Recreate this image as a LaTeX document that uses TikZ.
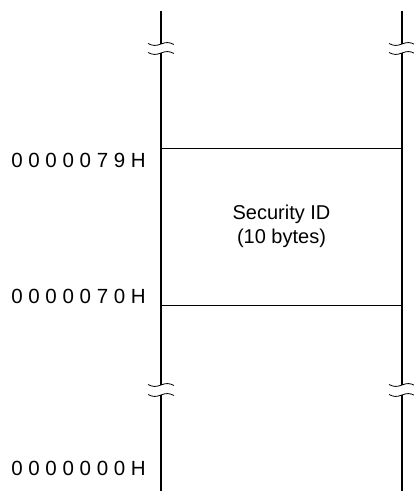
\documentclass[tikz,border=0pt]{standalone}
\usepackage{fontspec}
\setmainfont{Liberation Sans}
\usetikzlibrary{positioning,calc}

\tikzset{
  wall/.style={line width=2.4pt},
  bound/.style={line width=0.8pt},
  wavy/.style={line width=0.8pt},
  addr/.style={font=\fontsize{20.5}{24}\selectfont, inner sep=0pt, anchor=east},
  field/.style={font=\fontsize{20}{24}\selectfont, align=center, inner sep=0pt}
}

% break mark across a wall: two waves with a gap between them
\newcommand{\wallbreak}[2]{%
  \draw[wavy] ([shift={(-13,0.5)}]#1) .. controls ([shift={(-8,-2)}]#1) and ([shift={(-5,-2)}]#1) .. (#1)
    .. controls ([shift={(5,2)}]#1) and ([shift={(8,2)}]#1) .. ([shift={(13,-0.5)}]#1);
  \draw[wavy] ([shift={(-13,0.5)}]#2) .. controls ([shift={(-8,-2)}]#2) and ([shift={(-5,-2)}]#2) .. (#2)
    .. controls ([shift={(5,2)}]#2) and ([shift={(8,2)}]#2) .. ([shift={(13,-0.5)}]#2);
}

\begin{document}
\begin{tikzpicture}[x=1pt, y=1pt]
\useasboundingbox (0,0) rectangle (414,491);

% Wall coordinates (left and right)
\foreach \side/\xx in {L/161, R/402} {
  \coordinate (\side top) at (\xx,480);
  \coordinate (\side b1) at (\xx,447);
  \coordinate (\side b2) at (\xx,438);
  \coordinate (\side b3) at (\xx,106);
  \coordinate (\side b4) at (\xx,96);
  \coordinate (\side bot) at (\xx,0);
}

% Walls, broken twice
\foreach \side in {L, R} {
  \draw[wall] (\side top) -- (\side b1);
  \draw[wall] (\side b2) -- (\side b3);
  \draw[wall] (\side b4) -- (\side bot);
  \wallbreak{\side b1}{\side b2}
  \wallbreak{\side b3}{\side b4}
}

% Field boundaries
\coordinate (L79) at (161,343);
\coordinate (R79) at (402,343);
\coordinate (L70) at (161,186);
\coordinate (R70) at (402,186);
\draw[bound] (L79) -- (R79);
\draw[bound] (L70) -- (R70);

% Security ID field
\node[field] (secid) at ($(L79)!0.5!(R70)$) {Security ID\\(10 bytes)};

% Addresses
\node[addr] (a79) at ([xshift=-15pt, yshift=-12pt]L79) {0 0 0 0 0 7 9 H};
\node[addr] (a70) at ([xshift=-15pt, yshift=9pt]L70) {0 0 0 0 0 7 0 H};
\node[addr] (a00) at ([xshift=-15pt, yshift=23pt]Lbot) {0 0 0 0 0 0 0 H};

\end{tikzpicture}
\end{document}
